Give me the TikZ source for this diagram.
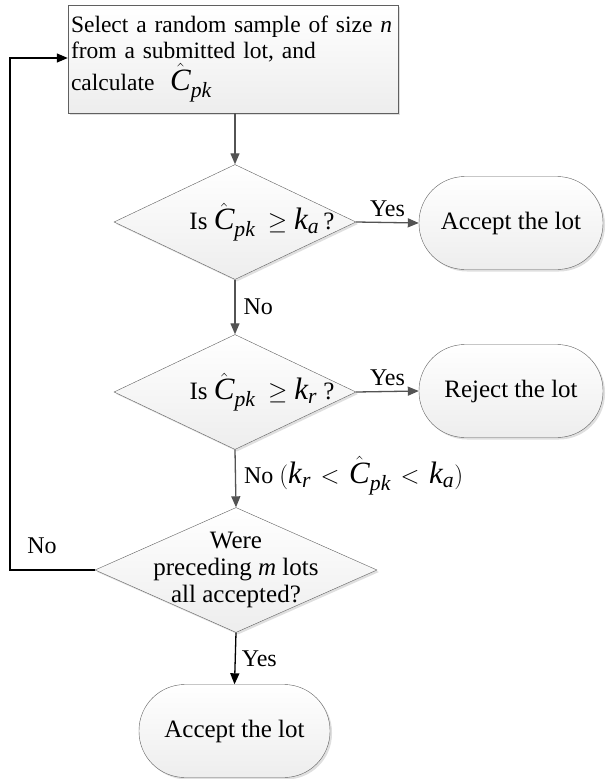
\documentclass[tikz,border=0pt]{standalone}
\usepackage{fontspec}
\usepackage{amsmath}
\setmainfont{Liberation Serif}
\usetikzlibrary{shapes.geometric,arrows.meta,shadows}
\newcommand\bigmath[1]{{\fontsize{31}{33}\selectfont$#1$}}
\newcommand\Cp{\hat{\textit{C}}_{\textit{pk}}}
\newcommand\wlt{\mskip 7mu{<}\mskip 7mu}
\begin{document}
\begin{tikzpicture}[x=1pt,y=-1pt,font=\fontsize{24}{27}\selectfont,
  shade/.style={top color=white,bottom color=gray!14,
    drop shadow={shadow xshift=2pt,shadow yshift=-2pt,opacity=0.25}},
  procbox/.style={draw=gray!75!black,shade,rectangle,inner sep=3pt},
  decide/.style={draw=gray!75!black,shade,diamond,inner sep=0pt},
  term/.style={draw=gray!75!black,shade,rectangle,rounded corners=46pt,
    minimum height=93pt,inner sep=0pt,font=\fontsize{25}{28}\selectfont},
  flow/.style={draw=gray!65!black,line width=1.3pt,-{Triangle[length=11pt,width=9pt]}},
  flowk/.style={draw=black,line width=1.3pt,-{Triangle[length=11pt,width=9pt]}},
  lbl/.style={inner sep=0pt}]
\useasboundingbox (0,0) rectangle (605,779);
% process box
\node[procbox,minimum width=330pt,minimum height=108pt,text width=324pt,align=left,
  font=\fontsize{23.5}{26}\selectfont]
  (box) at (233,59) {Select a random sample of size \textit{n}\\from a submitted lot, and\\calculate\ \ \bigmath{\Cp}};
% decisions
\node[decide,minimum width=242pt,minimum height=115pt] (d1) at (235,222) {};
\node[lbl,font=\fontsize{25}{28}\selectfont] (t1) at (262,222) {Is\ \bigmath{\Cp\mskip4mu\geq \textit{k}_{\textit{a}}}\,?};
\node[decide,minimum width=242pt,minimum height=115pt] (d2) at (235,392) {};
\node[lbl,font=\fontsize{25}{28}\selectfont] (t2) at (262,392) {Is\ \bigmath{\Cp\mskip4mu\geq \textit{k}_{\textit{r}}}\ ?};
\node[decide,minimum width=282pt,minimum height=125pt] (d3) at (236,570) {};
\node[lbl,align=center,font=\fontsize{25}{27}\selectfont] (t3) at (236,570)
  {Were\\preceding \textit{m} lots\\all accepted?};
% terminals
\node[term,minimum width=184pt] (a1) at (511,223) {Accept the lot};
\node[term,minimum width=184pt] (r1) at (511,391) {Reject the lot};
\node[term,minimum width=191pt] (a2) at (234.5,731) {Accept the lot};
% connectors
\draw[flow] (box.south -| d1.north) -- (d1.north);
\draw[flow] (d1.east) -- (a1.west) node[lbl,midway,above=5pt] (y1) {Yes};
\draw[flow] (d1.south) -- (d2.north) node[lbl,midway,right=8pt] (n1) {No};
\draw[flow] (d2.east) -- (r1.west) node[lbl,midway,above=5pt] (y2) {Yes};
\draw[flow] (d2.south) -- (d3.north) node[lbl,pos=0.45,right=8pt] (n2)
  {No \bigmath{(\textit{k}_{\textit{r}}\wlt\Cp\wlt\textit{k}_{\textit{a}})}};
\coordinate (lc1) at (10,570);
\coordinate (lc2) at (10,58);
\draw[flowk,line width=1.2pt] (d3.west) -- (lc1) -- (lc2) -- (lc2 -| box.west);
\node[lbl] (n3) at (42,546) {No};
\draw[flowk] (d3.south) -- (a2.north) node[lbl,midway,right=6pt] (y3) {Yes};
\end{tikzpicture}
\end{document}
